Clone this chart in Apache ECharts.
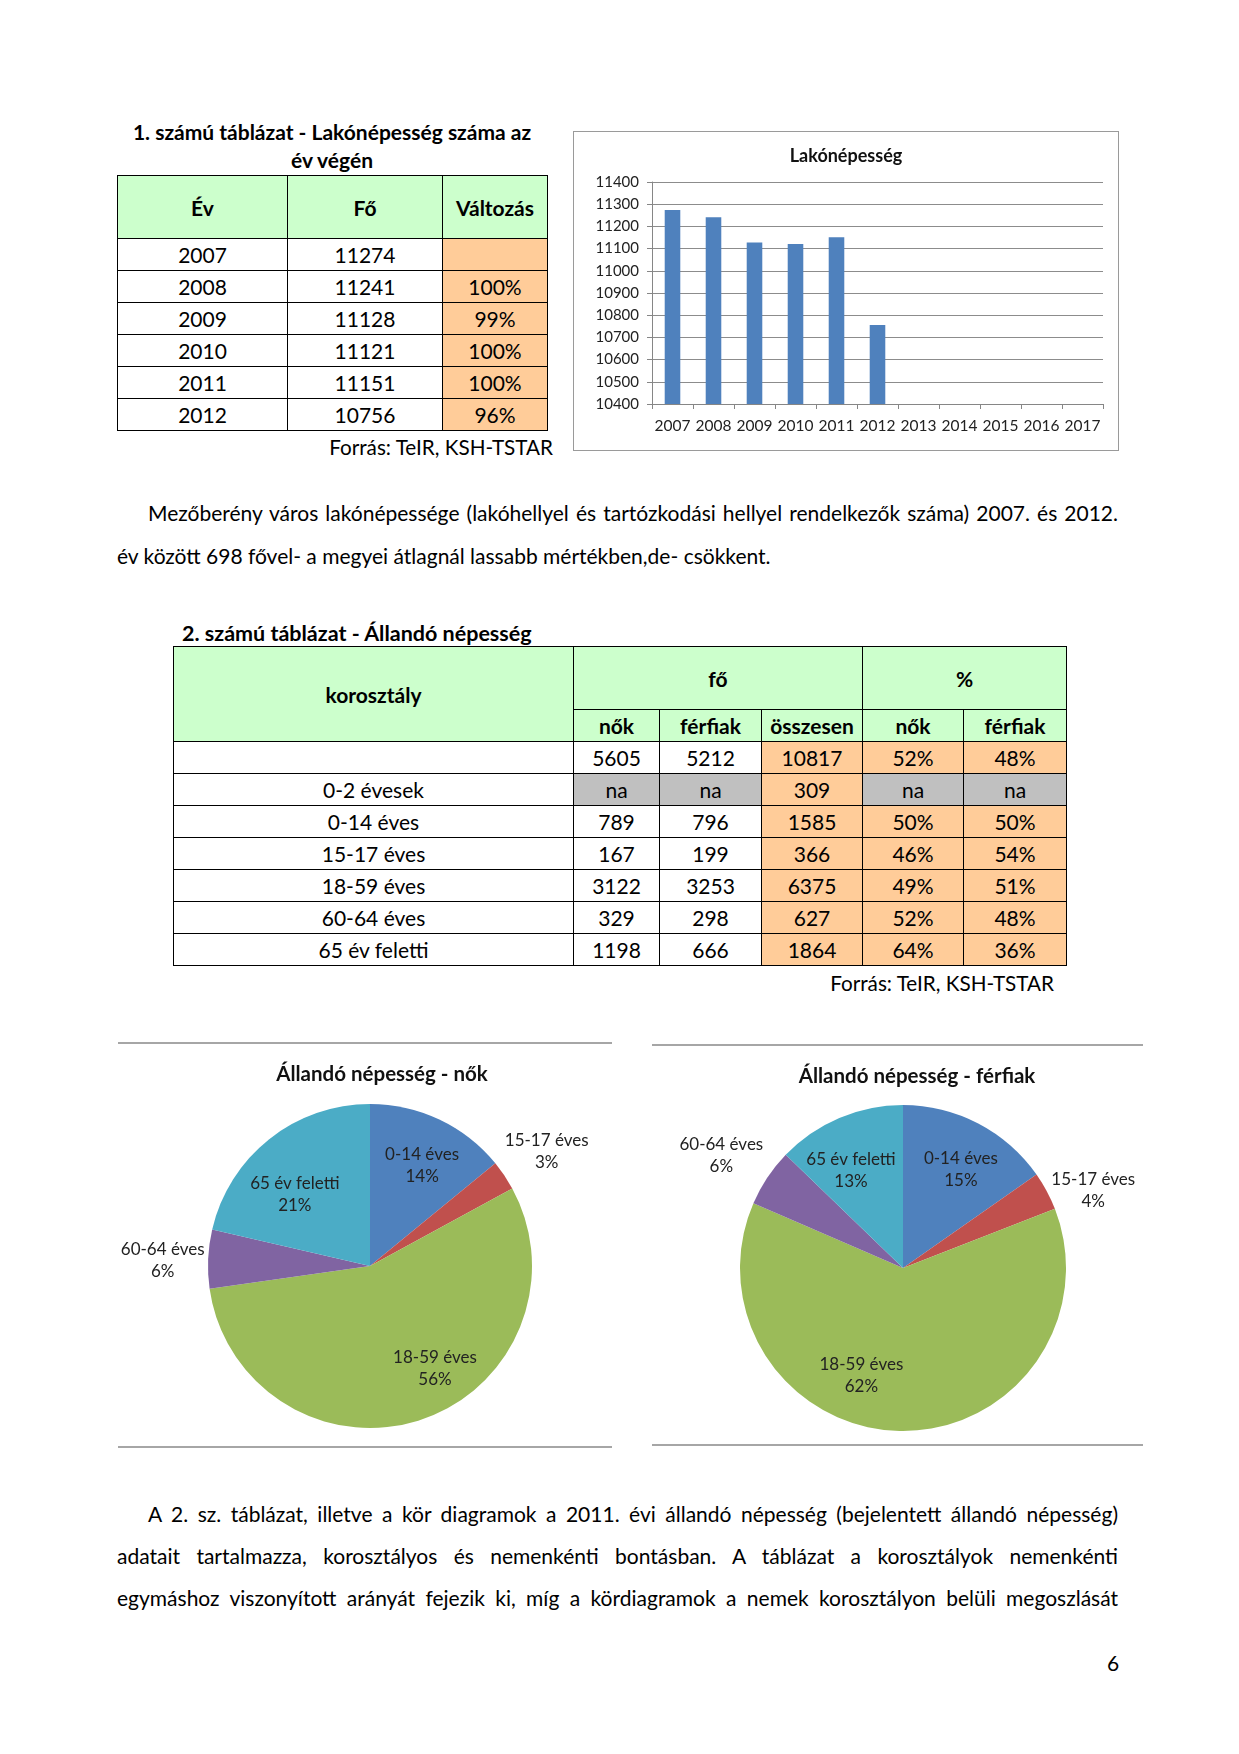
<!DOCTYPE html>
<html><head><meta charset="utf-8">
<script src="https://cdn.jsdelivr.net/npm/echarts/dist/echarts.min.js"></script>
<style>
html,body{margin:0;padding:0;background:#fff;}
body{width:1239px;height:1754px;position:relative;font-family:Lato,"Open Sans",sans-serif;color:#000;overflow:hidden;}
.abs{position:absolute;white-space:nowrap;}
table{border-collapse:collapse;position:absolute;table-layout:fixed;}
td{border:1px solid #000;text-align:center;vertical-align:middle;padding:0;font-size:21px;line-height:21px;}
td.h{background:#CCFFCC;font-weight:bold;}
td.o{background:#FFCC99;}
td.g{background:#C0C0C0;}
.jl{position:absolute;text-align:justify;text-align-last:justify;white-space:nowrap;font-size:21px;line-height:26px;}
.rule{position:absolute;height:0;border-top:2px solid #a6a6a6;}
</style>
</head><body>

<div class="abs" style="left:107px;top:118px;width:450px;text-align:center;font-weight:bold;font-size:21px;line-height:28px;white-space:normal;">1. számú táblázat - Lakónépesség száma az<br>év végén</div>
<table id="t1" style="left:117px;top:175px;width:430px;"></table>
<div class="abs" style="left:280px;width:273px;top:434px;text-align:right;font-size:20.7px;line-height:26px;">Forrás: TeIR, KSH-TSTAR</div>

<div id="bar" style="position:absolute;left:573px;top:131px;width:544px;height:318px;border:1px solid #9a9a9a;"></div>

<div class="jl" style="left:148px;top:500px;width:970px;">Mezőberény város lakónépessége (lakóhellyel és tartózkodási hellyel rendelkezők száma) 2007. és 2012.</div>
<div class="abs" style="left:117px;top:543px;font-size:21px;line-height:26px;">év között 698 fővel- a megyei átlagnál lassabb mértékben,de- csökkent.</div>

<div class="abs" style="left:182px;top:620px;font-weight:bold;font-size:21.5px;line-height:26px;">2. számú táblázat - Állandó népesség</div>
<table id="t2" style="left:173px;top:646px;width:893px;"></table>
<div class="abs" style="left:780px;width:274px;top:970px;text-align:right;font-size:20.7px;line-height:26px;">Forrás: TeIR, KSH-TSTAR</div>

<div class="rule" style="left:118px;top:1042px;width:494px;"></div>
<div class="rule" style="left:118px;top:1446px;width:494px;"></div>
<div class="rule" style="left:652px;top:1044px;width:491px;"></div>
<div class="rule" style="left:652px;top:1444px;width:491px;"></div>
<div id="pieW" style="position:absolute;left:117px;top:1044px;width:495px;height:402px;"></div>
<div id="pieM" style="position:absolute;left:652px;top:1046px;width:491px;height:398px;"></div>

<div class="jl" style="left:148px;top:1501px;width:970px;">A 2. sz. táblázat, illetve a kör diagramok a 2011. évi állandó népesség (bejelentett állandó népesség)</div>
<div class="jl" style="left:117px;top:1543px;width:1001px;">adatait tartalmazza, korosztályos és nemenkénti bontásban. A táblázat a korosztályok nemenkénti</div>
<div class="jl" style="left:117px;top:1585px;width:1001px;">egymáshoz viszonyított arányát fejezik ki, míg a kördiagramok a nemek korosztályon belüli megoszlását</div>
<div class="abs" style="left:1103px;top:1650px;width:20px;text-align:center;font-size:21px;line-height:26px;">6</div>

<script>
// ---- Data: table 1 / bar chart ----
var years = ['2007','2008','2009','2010','2011','2012'];
var residents = [11274, 11241, 11128, 11121, 11151, 10756];
var changePct = ['', '100%', '99%', '100%', '100%', '96%'];
var barCategories = ['2007','2008','2009','2010','2011','2012','2013','2014','2015','2016','2017'];
var table1Header = ['Év', 'Fő', 'Változás'];

// ---- Data: table 2 ----
var ageGroups = ['', '0-2 évesek', '0-14 éves', '15-17 éves', '18-59 éves', '60-64 éves', '65 év feletti'];
var womenCounts = [5605, 'na', 789, 167, 3122, 329, 1198];
var menCounts = [5212, 'na', 796, 199, 3253, 298, 666];
var totalCounts = [10817, 309, 1585, 366, 6375, 627, 1864];
var womenPct = ['52%', 'na', '50%', '46%', '49%', '52%', '64%'];
var menPct = ['48%', 'na', '50%', '54%', '51%', '48%', '36%'];

// ---- Data: pies ----
var pieCategories = ['0-14 éves', '15-17 éves', '18-59 éves', '60-64 éves', '65 év feletti'];
var pieWomen = [789, 167, 3122, 329, 1198];
var pieMen = [796, 199, 3253, 298, 666];

// ---- Styles ----
var FONT = 'Lato, "Open Sans", sans-serif';
var sliceColors = ['#4F81BD', '#C0504D', '#9BBB59', '#8064A2', '#4BACC6'];

// Build table 1
(function(){
  var t = document.getElementById('t1');
  var w = [170, 155, 105];
  var html = '<colgroup>' + w.map(function(x){return '<col style="width:'+x+'px">';}).join('') + '</colgroup>';
  html += '<tr style="height:63px">' + table1Header.map(function(h){return '<td class="h">'+h+'</td>';}).join('') + '</tr>';
  for (var i = 0; i < years.length; i++) {
    html += '<tr style="height:32px"><td>'+years[i]+'</td><td>'+residents[i]+'</td><td class="o">'+changePct[i]+'</td></tr>';
  }
  t.innerHTML = html;
})();

// Build table 2
(function(){
  var t = document.getElementById('t2');
  var w = [400, 86, 102, 101, 101, 103];
  var html = '<colgroup>' + w.map(function(x){return '<col style="width:'+x+'px">';}).join('') + '</colgroup>';
  html += '<tr style="height:63px"><td class="h" rowspan="2">korosztály</td><td class="h" colspan="3">fő</td><td class="h" colspan="2">%</td></tr>';
  html += '<tr style="height:32px"><td class="h">nők</td><td class="h">férfiak</td><td class="h">összesen</td><td class="h">nők</td><td class="h">férfiak</td></tr>';
  function cell(v, base){ return '<td class="'+(v==='na'?'g':base)+'">'+v+'</td>'; }
  for (var i = 0; i < ageGroups.length; i++) {
    html += '<tr style="height:32px"><td>'+ageGroups[i]+'</td>' +
      cell(womenCounts[i], '') + cell(menCounts[i], '') + cell(totalCounts[i], 'o') +
      cell(womenPct[i], 'o') + cell(menPct[i], 'o') + '</tr>';
  }
  t.innerHTML = html;
})();

// Bar chart
var bar = echarts.init(document.getElementById('bar'), null, {renderer:'canvas'});
bar.setOption({
  animation:false,
  textStyle:{fontFamily:FONT},
  title:{text:'Lakónépesség', left:'center', top:10, textStyle:{fontSize:18, fontWeight:'bold', color:'#111', fontFamily:FONT}},
  grid:{left:78, right:15, top:50, bottom:46, outerBoundsMode:'none', containLabel:false},
  xAxis:{type:'category', data:barCategories,
    axisLine:{show:true, lineStyle:{color:'#868686'}},
    axisTick:{show:true, length:5, lineStyle:{color:'#868686'}},
    axisLabel:{color:'#222', fontSize:15.5, margin:14, fontFamily:FONT, interval:0},
    splitLine:{show:false}},
  yAxis:{type:'value', min:10400, max:11400, interval:100,
    axisLine:{show:true, lineStyle:{color:'#868686'}},
    axisTick:{show:true, length:5, lineStyle:{color:'#868686'}},
    axisLabel:{color:'#222', fontSize:15, margin:13, fontFamily:FONT, formatter:function(v){ return String(v); }},
    splitLine:{show:true, lineStyle:{color:'#8c8c8c', width:1}}},
  series:[{type:'bar', data:residents, barWidth:'38%', itemStyle:{color:'#4F81BD'}}]
});

function makePie(el, title, values, center, r, titleX, labelFactor, labelShift) {
  var chart = echarts.init(document.getElementById(el), null, {renderer:'canvas'});
  chart.setOption({
    animation:false,
    textStyle:{fontFamily:FONT},
    title:{text:title, left:titleX, top:15, textAlign:'center',
      textStyle:{fontSize:20.5, fontWeight:'bold', color:'#111', fontFamily:FONT}},
    series:[{
      type:'pie', radius:r, center:center, startAngle:90, clockwise:true,
      avoidLabelOverlap:false,
      data:pieCategories.map(function(n, i){ return {name:n, value:values[i], itemStyle:{color:sliceColors[i]}}; }),
      label:{show:true, position:'inside', color:'#222', fontSize:17, lineHeight:22, fontFamily:FONT,
        formatter:function(p){ return p.name + '\n' + Math.round(p.percent) + '%'; }},
      labelLine:{show:false},
      labelLayout:function(p){
        var lr = p.labelRect;
        var lx = lr.x + lr.width/2, ly = lr.y + lr.height/2;
        var a = Math.atan2(ly - center[1], lx - center[0]) + labelShift[p.dataIndex]*Math.PI/180;
        var d = r * labelFactor[p.dataIndex];
        return {x:center[0] + d*Math.cos(a), y:center[1] + d*Math.sin(a), align:'center', verticalAlign:'middle'};
      }
    }]
  });
}
makePie('pieW', 'Állandó népesség - nők', pieWomen, [253, 222], 162, 260,
  [0.70, 1.30, 0.75, 1.28, 0.64], [2, 1, -14, -1, -8]);
makePie('pieM', 'Állandó népesség - férfiak', pieMen, [251, 222], 163, 260,
  [0.70, 1.26, 0.71, 1.31, 0.68], [3, 6, 20, -2, -5]);
</script>
</body></html>
